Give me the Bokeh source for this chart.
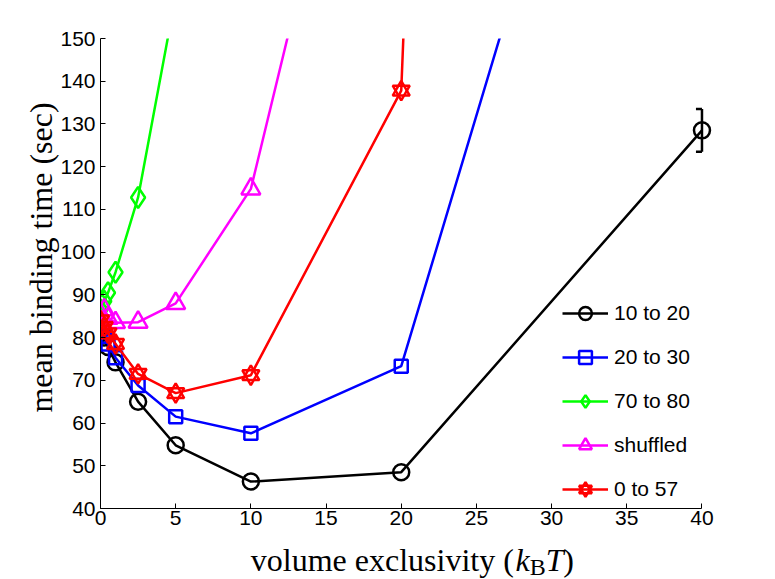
from bokeh.plotting import figure
from bokeh.layouts import column
from bokeh.models import Range1d, FixedTicker, Legend, LegendItem, Label
from bokeh.embed import file_html
from bokeh.resources import INLINE

# ---- data ----
x_10_20 = [0, 0.25, 0.5, 1, 2.5, 5, 10, 20, 40]
y_10_20 = [82.5, 80.0, 77.8, 74.2, 65.0, 54.8, 46.3, 48.5, 128.5]

err_x = [40]
err_y = [128.5]
err_e = [5.0]

x_20_30 = [0, 0.25, 0.5, 1, 2.5, 5, 10, 20, 40]
y_20_30 = [82.0, 80.3, 78.5, 75.3, 68.8, 61.5, 57.6, 73.3, 308.0]

x_70_80 = [0, 0.25, 0.5, 1, 2.5, 5]
y_70_80 = [86.5, 88.5, 90.5, 95.3, 112.8, 160.0]

x_shuf = [0, 0.25, 0.5, 1, 2.5, 5, 10, 20]
y_shuf = [85.5, 86.5, 84.5, 83.5, 83.6, 88.0, 114.8, 260.0]

x_0_57 = [0, 0.25, 0.5, 1, 2.5, 5, 10, 20, 40]
y_0_57 = [84.0, 82.5, 81.0, 78.5, 71.5, 67.0, 71.2, 137.8, 1900.0]

x_ticks = [0, 5, 10, 15, 20, 25, 30, 35, 40]
y_ticks = [40, 50, 60, 70, 80, 90, 100, 110, 120, 130, 140, 150]

names = ["10 to 20", "20 to 30", "70 to 80", "shuffled", "0 to 57"]

W = 767
H_MAIN = 534
H_XLAB = 45

# ---- main figure ----
p = figure(width=W, height=H_MAIN,
           x_range=Range1d(0, 40.7), y_range=Range1d(40, 150),
           output_backend="svg", toolbar_location=None,
           min_border_left=100, min_border_right=55,
           min_border_top=38, min_border_bottom=26)
p.outline_line_color = None
p.grid.visible = False
p.background_fill_color = "white"

p.xaxis.ticker = FixedTicker(ticks=x_ticks)
p.yaxis.ticker = FixedTicker(ticks=y_ticks)
p.xaxis.bounds = (0, 40)
p.axis.major_tick_in = 5
p.axis.major_tick_out = 0
p.axis.minor_tick_in = 0
p.axis.minor_tick_out = 0
p.axis.minor_tick_line_color = None
p.axis.axis_line_color = "black"
p.axis.major_tick_line_color = "black"
p.axis.major_label_text_font = "Liberation Sans"
p.axis.major_label_text_font_size = "21px"
p.axis.major_label_text_color = "black"
p.yaxis.major_label_standoff = 5
p.xaxis.major_label_standoff = 2

p.yaxis.axis_label = "\u00a0\u00a0\u00a0\u00a0mean binding time (sec)"
p.yaxis.axis_label_text_font = "Liberation Serif"
p.yaxis.axis_label_text_font_size = "32px"
p.yaxis.axis_label_text_font_style = "normal"
p.yaxis.axis_label_text_color = "black"
p.yaxis.axis_label_standoff = -2

LW = 2.5

def series(xs, ys, color, markers, size):
    rs = [p.line(xs, ys, line_color=color, line_width=LW)]
    for m in markers:
        rs.append(p.scatter(xs, ys, marker=m, size=size, fill_color=None,
                            line_color=color, line_width=LW))
    return rs

r1 = series(x_10_20, y_10_20, "black", ["circle"], 16)
# error bar
lo = [y - e for y, e in zip(err_y, err_e)]
hi = [y + e for y, e in zip(err_y, err_e)]
cap = 0.4
p.segment(x0=err_x, y0=lo, x1=err_x, y1=hi, line_color="black", line_width=LW)
p.segment(x0=[x - cap for x in err_x], y0=hi, x1=err_x, y1=hi, line_color="black", line_width=LW)
p.segment(x0=[x - cap for x in err_x], y0=lo, x1=err_x, y1=lo, line_color="black", line_width=LW)

r2 = series(x_20_30, y_20_30, "#0000ff", ["square"], 13)
r3 = series(x_70_80, y_70_80, "#00ff00", ["diamond"], 21)
r4 = series(x_shuf, y_shuf, "#ff00ff", ["triangle"], 19)
r5 = series(x_0_57, y_0_57, "#ff0000", ["triangle", "inverted_triangle"], 17)

legend = Legend(items=[LegendItem(label=n, renderers=r) for n, r in zip(names, [r1, r2, r3, r4, r5])],
                location=(462, 3), padding=0, margin=0,
                glyph_width=46, glyph_height=32, spacing=12,
                label_standoff=6, label_text_font="Liberation Sans",
                label_text_font_size="21px", label_text_color="black",
                border_line_color=None, background_fill_alpha=0)
p.add_layout(legend)

# ---- x-axis title strip (separate canvas so the text is not clipped) ----
q = figure(width=W, height=H_XLAB, x_range=Range1d(0, W), y_range=Range1d(0, H_XLAB),
           x_axis_type=None, y_axis_type=None, output_backend="svg",
           toolbar_location=None, min_border=0)
q.outline_line_color = None
q.grid.visible = False

SERIF = "Liberation Serif"
def lab(text, x, y, size="32px", style="normal", align="left"):
    q.add_layout(Label(x=x, y=y, text=text, text_font=SERIF, text_font_size=size,
                       text_font_style=style, text_align=align,
                       text_baseline="alphabetic", text_color="black"))

lab("volume exclusivity (", 518, 19.5, align="right")
lab("k", 520, 19.5, style="italic")
lab("B", 538, 13, size="24px")
lab("T", 558, 19.5, style="italic")
lab(")", 580, 19.5)

open("out.html", "w").write(file_html(column(p, q), INLINE))
